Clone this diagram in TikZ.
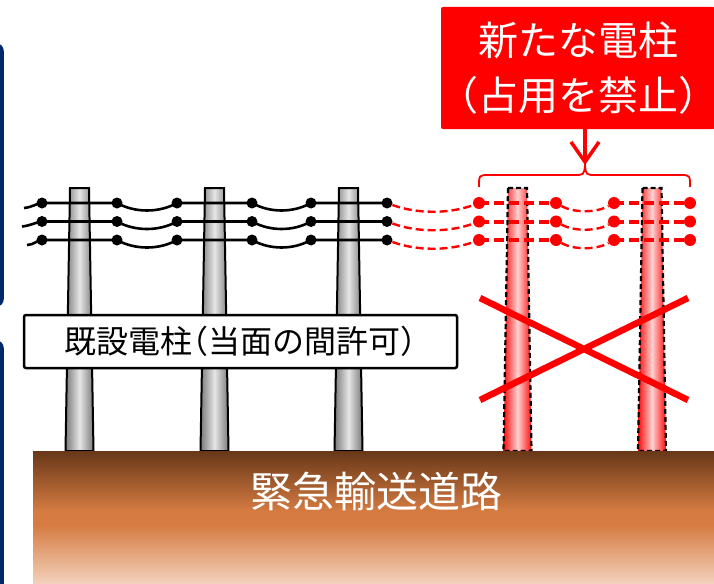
\documentclass[tikz,border=0pt]{standalone}
\usepackage{fontspec}
\newfontfamily\jp{Noto Sans CJK JP}
\newfontfamily\jphalt[RawFeature={+halt}]{Noto Sans CJK JP}
\usepackage{tikz}
\usetikzlibrary{arrows.meta}
\usetikzlibrary{positioning}

\definecolor{navyline}{RGB}{0,40,104}
\definecolor{soiltop}{RGB}{104,55,24}
\definecolor{soilmid}{RGB}{214,124,66}
\definecolor{soilbot}{RGB}{242,208,186}
\pgfdeclareverticalshading{soil}{100bp}{color(0bp)=(soilbot); color(25bp)=(soilbot);
  color(47bp)=(soilmid); color(52bp)=(soilmid); color(75bp)=(soiltop); color(100bp)=(soiltop)}

\begin{document}
\begin{tikzpicture}[x=1pt,y=-1pt,
    oldpole/.style={draw=black,line width=2pt,left color=black!52,right color=black!52,middle color=black!10},
    newpole/.style={draw=black,line width=2.2pt,dash pattern=on 5pt off 3pt,left color=red!95,right color=red!95,middle color=red!18},
    wire/.style={line width=2.6pt},
    newwire/.style={red,line width=4pt,dash pattern=on 10pt off 5pt},
    sagwire/.style={red,line width=2.4pt,dash pattern=on 8pt off 4pt},
    bdot/.style={circle,fill=black,inner sep=0pt,minimum size=11pt},
    rdot/.style={circle,fill=red,inner sep=0pt,minimum size=12pt},
    navybox/.style={draw=navyline,line width=3.5pt,rounded corners=6pt},
    labelbox/.style={draw=black,fill=white,line width=2.5pt,rounded corners=2pt,minimum width=433pt,minimum height=53pt,inner sep=0pt,font=\jphalt\fontsize{32}{38}\selectfont},
    warnbox/.style={fill=red,text=white,rounded corners=2pt,minimum width=274pt,minimum height=122pt,inner sep=0pt,align=center,font=\jp\fontsize{40}{55}\selectfont},
    roadtext/.style={text=white,font=\jp\fontsize{42}{50}\selectfont},
    ban/.style={red,line width=6.5pt},
    brace/.style={red,line width=1.8pt},
    notice/.style={red,line width=3.5pt,-{Straight Barb[length=20pt,width=28pt]}}]
  \clip (0,0) rectangle (714,583);

  % cut-off boxes on the left
  \draw[navybox] (-60,45) rectangle (2,305);
  \draw[navybox] (-60,342) rectangle (2,640);

  % poles
  \foreach \x in {79.5,214.5,348.5}
    \shadedraw[oldpole] (\x-9.5,188) -- (\x+9.5,188) -- (\x+14,451) -- (\x-14,451) -- cycle;
  \foreach \x in {517.5,652}
    \shadedraw[newpole] (\x-9.5,188) -- (\x+9.5,188) -- (\x+14,451) -- (\x-14,451) -- cycle;

  % road
  \shade[shading=soil] (33,451) rectangle (714,583);
  \node[roadtext] (road) at (376,491) {緊急輸送道路};

  % wires
  \foreach \r/\y/\t in {1/203/24,2/221.5/22,3/240/27}{
    \coordinate (t\r) at (\t,\y+5);
    \foreach \i/\x in {1/42,2/117,3/177,4/252,5/311,6/387}
      \node[bdot] (b\r\i) at (\x,\y) {};
    \foreach \i/\x in {1/479,2/556,3/614,4/690}
      \node[rdot] (r\r\i) at (\x,\y) {};
  }
  \foreach \r in {1,2,3}{
    \draw[wire] (t\r) .. controls +(9,-1) and +(-7,1) .. (b\r1.center) -- (b\r2.center)
      .. controls +(18,10) and +(-18,10) .. (b\r3.center) -- (b\r4.center)
      .. controls +(18,10) and +(-18,10) .. (b\r5.center) -- (b\r6.center);
    \draw[sagwire] (b\r6) .. controls +(30,11) and +(-30,11) .. (r\r1);
    \draw[newwire] (r\r1.center) -- (r\r2.center);
    \draw[sagwire] (r\r2) .. controls +(18,10) and +(-18,10) .. (r\r3);
    \draw[newwire] (r\r3.center) -- (r\r4.center);
  }

  % existing poles label
  \node[labelbox] (exist) at (240.5,341.5) {既設電柱（当面の間許可）};

  % cross over the new poles
  \draw[ban] (480,298) -- (688,400);
  \draw[ban] (480,400) -- (688,298);

  % warning box, arrow and brace
  \node[warnbox] (warn) at (578,68) {新たな電柱\\\makebox[0.5em][r]{（}占用を禁止\makebox[0.5em][l]{）}};
  \coordinate (tip) at (585,165);
  \draw[brace] (479,187) .. controls (479,175) .. (489,175) -- (574,175)
    .. controls (584,175) .. (tip) .. controls (586,175) .. (596,175)
    -- (680,175) .. controls (690,175) .. (690,187);
  \draw[notice] (tip |- warn.south) -- (tip);
\end{tikzpicture}
\end{document}
